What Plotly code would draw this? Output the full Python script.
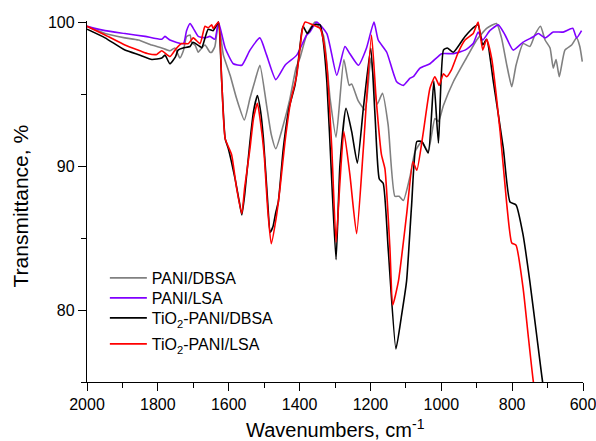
import plotly.graph_objects as go

# ---- data (wavenumber cm^-1, transmittance %) ----
dbsa_x = [2000, 1949, 1893, 1855, 1817, 1789, 1766, 1752, 1738, 1728, 1719, 1709, 1705, 1695, 1686, 1681, 1667, 1653, 1648, 1639, 1629,
          1615, 1596, 1578, 1556, 1540, 1525, 1512, 1493, 1480, 1467, 1446, 1427, 1410, 1399, 1380, 1356, 1333, 1314, 1297, 1275,
          1260, 1253, 1234, 1215, 1199, 1181, 1166, 1150, 1131, 1119, 1107, 1088, 1074, 1055, 1037, 1018, 1008, 994, 966, 929,
          900, 872, 844, 830, 815, 801, 789, 769, 750, 736, 720, 707, 693, 684, 676, 667, 651, 632, 618, 609, 602]
dbsa_y = [99.7, 99.2, 98.9, 98.75, 98.4, 98.2, 98.0, 98.2, 97.5, 98.0, 99.0, 99.1, 98.6, 98.4, 97.9, 98.05, 98.4, 97.9, 97.9, 98.3, 100.0,
          97.7, 96.3, 94.7, 93.2, 94.7, 96.0, 97.0, 94.2, 92.2, 91.2, 92.85, 94.7, 96.8, 97.5, 99.1, 100.0, 99.1, 94.7, 92.0, 97.4,
          95.6, 95.7, 94.5, 93.9, 97.5, 94.3, 95.05, 92.85, 87.9, 87.9, 87.6, 89.3, 91.0, 91.7, 91.0, 93.3, 93.1, 94.2, 95.85, 97.5,
          98.75, 99.56, 99.9, 98.9, 97.0, 95.5, 97.0, 98.5, 98.3, 99.1, 99.7, 98.75, 98.2, 96.8, 97.4, 96.2, 98.05, 98.4, 98.9, 98.3, 97.25]

lsa_x = [2000, 1949, 1893, 1836, 1789, 1780, 1766, 1728, 1719, 1709, 1700, 1686, 1667, 1653, 1639, 1629, 1610, 1587, 1563, 1540,
         1512, 1493, 1467, 1441, 1408, 1380, 1371, 1352, 1323, 1295, 1272, 1258, 1234, 1211, 1190, 1178, 1154, 1126, 1107, 1088,
         1079, 1060, 1032, 999, 966, 933, 910, 896, 883, 863, 839, 820, 797, 769, 740, 726, 707, 684, 656, 629, 618, 604]
lsa_y = [99.7, 99.4, 99.2, 99.0, 98.8, 99.0, 98.75, 98.5, 99.4, 99.9, 99.56, 99.0, 98.9, 99.0, 98.8, 100.0, 98.2, 97.1, 97.0, 98.05,
         98.9, 97.7, 96.0, 97.0, 97.7, 99.1, 99.3, 100.0, 99.2, 96.3, 98.3, 97.8, 97.0, 98.2, 100.0, 98.75, 97.9, 95.85, 95.6, 96.1,
         96.2, 96.8, 97.1, 97.8, 97.8, 98.05, 98.5, 99.3, 98.75, 99.4, 99.8, 99.1, 98.05, 98.6, 98.98, 99.2, 98.9, 99.3, 99.3, 99.56, 98.9, 99.4]

tio2_dbsa_x = [2000, 1949, 1893, 1850, 1817, 1789, 1780, 1766, 1750, 1743, 1729, 1709, 1701, 1681, 1676, 1658, 1644, 1636, 1629,
               1620, 1610, 1601, 1582, 1570, 1563, 1555, 1540, 1530, 1519, 1510, 1502, 1490, 1483, 1475, 1467, 1460, 1446, 1430,
               1413, 1405, 1394, 1390, 1378, 1361, 1342, 1335, 1323, 1309, 1297, 1286, 1269, 1253, 1237, 1220, 1199, 1187, 1175,
               1164, 1150, 1128, 1112, 1098, 1084, 1069, 1055, 1037, 1021, 1008, 994, 983, 966, 933, 905, 896, 883, 872, 853, 825,
               806, 789, 769, 750, 731, 714, 700]
tio2_dbsa_y = [99.5, 98.9, 98.05, 97.7, 97.4, 97.5, 97.7, 97.1, 97.6, 98.05, 98.2, 98.3, 98.6, 98.3, 98.2, 99.5, 99.4, 99.7, 100.0,
               96.0, 91.9, 91.2, 89.1, 87.5, 86.6, 88.0, 91.7, 93.8, 94.9, 93.8, 91.9, 87.5, 85.4, 85.8, 86.8, 87.5, 91.2, 94.0,
               95.6, 97.0, 99.3, 99.7, 99.2, 99.8, 99.8, 99.0, 95.85, 88.9, 83.5, 90.1, 94.0, 92.4, 90.2, 94.0, 98.2, 93.5, 89.1,
               88.8, 84.3, 77.3, 79.65, 82.0, 87.2, 91.7, 91.7, 90.9, 95.9, 91.6, 98.05, 98.2, 97.9, 99.0, 99.7, 99.8, 98.4, 98.8,
               95.85, 91.25, 87.5, 87.3, 85.2, 81.97, 78.3, 75.0, 73.0]

tio2_lsa_x = [2000, 1949, 1893, 1850, 1827, 1803, 1789, 1766, 1750, 1733, 1714, 1700, 1681, 1667, 1658, 1648, 1644, 1629, 1620, 1610,
              1592, 1578, 1563, 1555, 1540, 1530, 1519, 1510, 1500, 1490, 1480, 1466, 1455, 1441, 1425, 1408, 1392, 1384, 1362,
              1342, 1335, 1323, 1309, 1297, 1286, 1275, 1258, 1239, 1220, 1197, 1184, 1169, 1159, 1145, 1137, 1121, 1098, 1080,
              1069, 1051, 1032, 1018, 1006, 994, 985, 971, 952, 933, 910, 896, 883, 872, 858, 834, 815, 801, 789, 769, 755, 740, 725]
tio2_lsa_y = [99.7, 99.1, 98.4, 98.0, 97.8, 97.75, 98.0, 97.6, 98.1, 98.5, 98.5, 98.9, 98.5, 99.7, 99.6, 99.8, 99.56, 100.0, 96.0, 91.9,
              90.8, 88.5, 86.7, 88.5, 91.2, 93.3, 94.35, 93.0, 90.8, 87.0, 84.6, 86.4, 88.5, 91.7, 94.5, 96.3, 99.5, 100.0, 99.8,
              99.56, 99.0, 97.0, 91.2, 84.7, 88.9, 92.4, 89.4, 85.3, 91.2, 99.1, 94.7, 90.8, 89.8, 84.3, 80.35, 82.0, 86.6, 90.3,
              89.7, 92.3, 95.4, 96.2, 95.6, 96.4, 96.2, 96.7, 97.9, 98.75, 99.2, 100.0, 98.05, 98.8, 97.5, 92.4, 87.3, 84.65, 84.5,
              81.5, 78.3, 75.0, 72.8]

names = ["PANI/DBSA", "PANI/LSA", "TiO<sub>2</sub>-PANI/DBSA", "TiO<sub>2</sub>-PANI/LSA"]
colors = ["#808080", "#8000FF", "#000000", "#FF0000"]
xs_all = [dbsa_x, lsa_x, tio2_dbsa_x, tio2_lsa_x]
ys_all = [dbsa_y, lsa_y, tio2_dbsa_y, tio2_lsa_y]

x_ticks = [2000, 1800, 1600, 1400, 1200, 1000, 800, 600]
y_ticks = [80, 90, 100]

FONT = "Arial, Liberation Sans, sans-serif"

# plot area geometry
W, H = 596, 441
ML, MR, MT, MB = 87, 13, 21, 59
PH = H - MT - MB

legend_ids = ["legend", "legend2", "legend3", "legend4"]
legend_py = [278, 298, 318, 344]  # pixel rows of legend entries

fig = go.Figure()
for name, xs, ys, col, lid in zip(names, xs_all, ys_all, colors, legend_ids):
    fig.add_trace(go.Scatter(x=xs, y=ys, mode="lines", name=name, legend=lid,
                             line=dict(color=col, width=1.6, shape="spline", smoothing=0.5)))

layout_legends = {}
for lid, py in zip(legend_ids, legend_py):
    layout_legends[lid] = dict(x=0.036, y=(H - MB - py) / PH, xanchor="left", yanchor="middle",
                               bgcolor="rgba(0,0,0,0)", font=dict(size=16, family=FONT),
                               itemwidth=37)

fig.update_layout(
    width=W, height=H,
    margin=dict(l=ML, r=MR, t=MT, b=MB),
    paper_bgcolor="white", plot_bgcolor="white",
    font=dict(family=FONT, size=16, color="black"),
    showlegend=True,
    **layout_legends,
)
fig.add_annotation(text="Transmittance, %", textangle=-90, showarrow=False,
                   xref="paper", yref="paper", x=0, y=0.5, xanchor="center", yanchor="middle",
                   xshift=20 - ML, yshift=-5,
                   font=dict(size=21, family=FONT, color="black"))
fig.add_annotation(text="Wavenumbers, cm<sup>-1</sup>", showarrow=False,
                   xref="paper", yref="paper", x=0.5, y=0, xanchor="center", yanchor="top",
                   yshift=-32,
                   font=dict(size=20, family=FONT, color="black"))

fig.update_xaxes(
    range=[2000, 600], autorange=False, automargin=False,
    tickvals=x_ticks, ticktext=[str(v) for v in x_ticks],
    ticklabeloverflow="allow",
    ticks="outside", ticklen=8, tickwidth=1.3, tickcolor="black",
    showline=True, linecolor="black", linewidth=1.3,
    showgrid=False, zeroline=False, mirror=False,
    minor=dict(dtick=100, tick0=0, ticks="outside", ticklen=5, tickwidth=1.3, tickcolor="black", showgrid=False),
    tickfont=dict(size=16, family=FONT),
)
fig.update_yaxes(
    range=[75, 100.07], autorange=False, automargin=False,
    tickvals=y_ticks, ticktext=[str(v) for v in y_ticks],
    ticklabeloverflow="allow",
    ticks="outside", ticklen=8, tickwidth=1.3, tickcolor="black",
    showline=True, linecolor="black", linewidth=1.3,
    showgrid=False, zeroline=False, mirror=False,
    minor=dict(dtick=5, tick0=0, ticks="outside", ticklen=5, tickwidth=1.3, tickcolor="black", showgrid=False),
    tickfont=dict(size=16, family=FONT),
)

fig.write_html("out.html")
